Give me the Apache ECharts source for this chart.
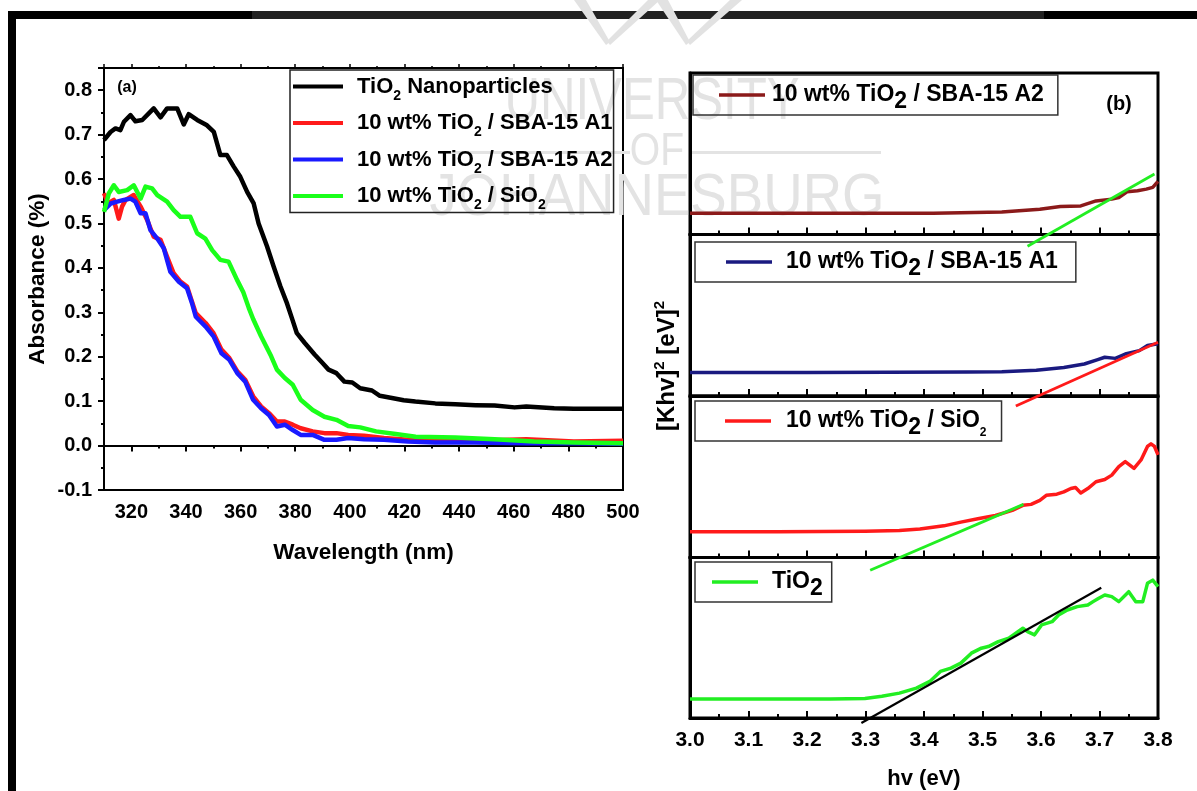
<!DOCTYPE html>
<html><head><meta charset="utf-8">
<script src="https://cdn.jsdelivr.net/npm/echarts@6/dist/echarts.min.js"></script>
<style>html,body{margin:0;padding:0;background:#fff}#c{width:1197px;height:791px}</style>
</head><body><div id="c"></div>
<script>
const FONT = '"Liberation Sans", Arial, Helvetica, sans-serif';

// ---------- Panel (a): absorbance vs wavelength ----------
const wlBlack  = [310, 312.4, 314.2, 316, 317.3, 319.7, 321.5, 324, 326.4, 328.2, 330.7, 333.1, 336.8, 339.2, 341, 344.1, 347.7, 350.2, 352.6, 355, 357.5, 359.9, 362.4, 364.8, 366.6, 369.7, 372.1, 374.6, 377, 379, 380.6, 383.5, 387.1, 390, 392.2, 395.1, 398, 400.9, 403.8, 408.1, 411, 415.4, 419.7, 424, 431.3, 438.6, 446, 453, 460.3, 464.6, 474.8, 482, 489.3, 500];
const absBlack = [0.688, 0.706, 0.714, 0.71, 0.729, 0.744, 0.73, 0.733, 0.748, 0.759, 0.739, 0.759, 0.759, 0.723, 0.746, 0.733, 0.721, 0.706, 0.654, 0.654, 0.628, 0.605, 0.571, 0.545, 0.50, 0.448, 0.403, 0.358, 0.32, 0.283, 0.253, 0.231, 0.205, 0.186, 0.171, 0.163, 0.144, 0.142, 0.129, 0.124, 0.112, 0.107, 0.102, 0.099, 0.095, 0.093, 0.091, 0.090, 0.086, 0.088, 0.084, 0.083, 0.083, 0.083];

const wlRed  = [310, 311.5, 313.6, 315.4, 316.6, 317.9, 320.9, 323.4, 325.8, 328.2, 330.7, 333.1, 335.5, 338, 340.4, 342, 343.6, 347.2, 350.1, 353, 355.9, 358.8, 361.7, 364.6, 367.5, 370.4, 373.3, 376.2, 379.1, 382, 386.4, 390.7, 395.1, 399.4, 405.2, 412.5, 421.2, 431.3, 445.8, 464.6, 482, 500];
const absRed = [0.568, 0.545, 0.553, 0.511, 0.538, 0.553, 0.564, 0.538, 0.508, 0.470, 0.463, 0.425, 0.388, 0.369, 0.358, 0.328, 0.298, 0.276, 0.253, 0.216, 0.197, 0.167, 0.148, 0.111, 0.088, 0.073, 0.054, 0.054, 0.047, 0.039, 0.032, 0.028, 0.028, 0.024, 0.022, 0.017, 0.013, 0.011, 0.011, 0.014, 0.009, 0.011];

const wlBlue  = [310, 312.5, 314.8, 317.3, 319.7, 321.5, 323.4, 325.2, 327, 329.5, 331.9, 334.3, 337.4, 340.4, 342.2, 343.6, 347.2, 350.1, 353, 355.9, 358.8, 361.7, 364.6, 367.5, 370.4, 373.3, 376.2, 379.1, 382, 386.4, 390.7, 395.1, 399.4, 405.2, 412.5, 421.2, 431.3, 445.8, 464.6, 482, 500];
const absBlue = [0.53, 0.545, 0.549, 0.553, 0.556, 0.549, 0.523, 0.523, 0.485, 0.466, 0.444, 0.391, 0.369, 0.354, 0.321, 0.29, 0.268, 0.246, 0.208, 0.193, 0.163, 0.144, 0.103, 0.084, 0.069, 0.043, 0.047, 0.035, 0.024, 0.024, 0.013, 0.013, 0.017, 0.014, 0.013, 0.009, 0.007, 0.007, 0.005, 0.005, 0.004];

const wlGreen  = [310, 311.8, 313.6, 315.4, 318.5, 320.9, 323.4, 325.2, 327.6, 329.5, 333.1, 335.5, 338, 341.6, 344.1, 347.1, 349.6, 352.6, 355.6, 358.7, 361, 363, 364.6, 367.5, 371.2, 373.3, 376.2, 379.1, 382, 386.4, 390.7, 395.1, 399.4, 403.8, 409.6, 416.8, 424.1, 438.6, 453, 467.5, 482, 500];
const absGreen = [0.526, 0.568, 0.586, 0.571, 0.575, 0.586, 0.556, 0.583, 0.579, 0.564, 0.549, 0.530, 0.515, 0.515, 0.478, 0.466, 0.44, 0.418, 0.414, 0.373, 0.345, 0.31, 0.285, 0.246, 0.201, 0.171, 0.152, 0.137, 0.103, 0.080, 0.065, 0.058, 0.044, 0.041, 0.032, 0.026, 0.020, 0.018, 0.014, 0.009, 0.007, 0.005];

const namesA = ['TiO2 Nanoparticles', '10 wt% TiO2 / SBA-15 A1', '10 wt% TiO2 / SBA-15 A2', '10 wt% TiO2 / SiO2'];
const colorsA = ['#000000', '#ff1a1a', '#1a1aff', '#1aff1a'];

// ---------- Panel (b): Tauc plots (arbitrary units, 0..1 per sub-panel) ----------
const hvA2 = [3.0, 3.2, 3.416, 3.533, 3.598, 3.633, 3.668, 3.694, 3.721, 3.733, 3.747, 3.765, 3.78, 3.791, 3.8];
const kA2  = [0.131, 0.131, 0.132, 0.140, 0.156, 0.173, 0.177, 0.208, 0.219, 0.229, 0.265, 0.271, 0.281, 0.292, 0.329];
const fitHvA2 = [3.577, 3.794];
const fitKA2  = [-0.073, 0.375];

const hvA1 = [3.0, 3.2, 3.475, 3.533, 3.592, 3.639, 3.674, 3.697, 3.709, 3.727, 3.744, 3.768, 3.782, 3.8];
const kA1  = [0.146, 0.146, 0.148, 0.15, 0.16, 0.177, 0.198, 0.225, 0.24, 0.233, 0.26, 0.281, 0.3125, 0.323];
const fitHvA1 = [3.557, 3.8];
const fitKA1  = [-0.0625, 0.333];

const hvSi = [3.0, 3.15, 3.299, 3.358, 3.393, 3.434, 3.463, 3.492, 3.522, 3.551, 3.569, 3.583, 3.598, 3.609, 3.627, 3.639, 3.651, 3.659, 3.668, 3.68, 3.694, 3.709, 3.721, 3.733, 3.744, 3.759, 3.771, 3.782, 3.788, 3.794, 3.8];
const kSi  = [0.16, 0.16, 0.162, 0.167, 0.177, 0.196, 0.219, 0.24, 0.26, 0.292, 0.323, 0.329, 0.354, 0.385, 0.392, 0.406, 0.427, 0.433, 0.40, 0.427, 0.469, 0.483, 0.51, 0.5625, 0.594, 0.552, 0.604, 0.6875, 0.704, 0.6875, 0.635];
const fitHvSi = [3.308, 3.570];
const fitKSi  = [-0.079, 0.329];

const hvTi = [3.0, 3.24, 3.299, 3.328, 3.358, 3.387, 3.41, 3.428, 3.446, 3.463, 3.481, 3.498, 3.51, 3.527, 3.545, 3.557, 3.569, 3.577, 3.589, 3.601, 3.619, 3.63, 3.645, 3.662, 3.68, 3.689, 3.698, 3.709, 3.721, 3.733, 3.75, 3.762, 3.774, 3.782, 3.791, 3.8];
const kTi  = [0.118, 0.118, 0.122, 0.135, 0.155, 0.186, 0.228, 0.29, 0.311, 0.342, 0.404, 0.435, 0.445, 0.476, 0.497, 0.528, 0.559, 0.538, 0.518, 0.58, 0.6, 0.642, 0.673, 0.694, 0.704, 0.725, 0.745, 0.766, 0.756, 0.725, 0.787, 0.725, 0.725, 0.839, 0.859, 0.818];
const fitHvTi = [3.293, 3.703];
const fitKTi  = [-0.031, 0.812];

const namesB = ['A2 (b)', 'A1 (b)', 'SiO2 (b)', 'TiO2 (b)'];
const colorsB = ['#8b1a1a', '#1a1a80', '#ff1a1a', '#22ee22'];
const fitColorsB = ['#22ee22', '#ff1a1a', '#22ee22', '#000000'];

// ---------- helpers ----------
const zip = (xs, ys) => xs.map((x, i) => [x, ys[i]]);
const boldText = (size) => ({ fontFamily: FONT, fontWeight: 'bold', fontSize: size, color: '#000' });

const legendTextA = {
  'TiO2 Nanoparticles': '{m|TiO}{s|2}{m| Nanoparticles}',
  '10 wt% TiO2 / SBA-15 A1': '{m|10 wt% TiO}{s|2}{m| / SBA-15 A1}',
  '10 wt% TiO2 / SBA-15 A2': '{m|10 wt% TiO}{s|2}{m| / SBA-15 A2}',
  '10 wt% TiO2 / SiO2': '{m|10 wt% TiO}{s|2}{m| / SiO}{s|2}'
};
const legendTextB = {
  'A2 (b)': '{m|10 wt% TiO}{b|2}{m| / SBA-15 A2}',
  'A1 (b)': '{m|10 wt% TiO}{b|2}{m| / SBA-15 A1}',
  'SiO2 (b)': '{m|10 wt% TiO}{b|2}{m| / SiO}{s|2}',
  'TiO2 (b)': '{m|TiO}{b|2}'
};
const richA = {
  m: boldText(22),
  s: Object.assign(boldText(14), { verticalAlign: 'bottom' })
};
const richB = {
  m: boldText(23),
  b: Object.assign(boldText(23), { verticalAlign: 'bottom' }),
  s: Object.assign(boldText(12), { verticalAlign: 'bottom' })
};

// ---------- grids ----------
const subH = 161.5;
const grids = [
  { left: 104, top: 68, width: 519, height: 422, show: true, borderColor: '#000', borderWidth: 2 },
];
for (let i = 0; i < 4; i++) {
  grids.push({ left: 690, top: 73 + i * subH, width: 468, height: subH, show: true, borderColor: '#000', borderWidth: 3 });
}

const xAxes = [
  { gridIndex: 0, type: 'value', min: 310, max: 500, splitNumber: 10, position: 'bottom',
    axisLine: { lineStyle: { color: '#000', width: 2 } },
    axisTick: { inside: false, length: 6, lineStyle: { color: '#000', width: 2 } },
    minorTick: { show: true, splitNumber: 2, length: 3, lineStyle: { color: '#000', width: 2 } },
    splitLine: { show: false },
    axisLabel: Object.assign(boldText(20), { margin: 12, showMinLabel: false }),
    name: 'Wavelength (nm)', nameLocation: 'middle', nameGap: 51, nameTextStyle: boldText(22.5) },
  { gridIndex: 0, type: 'value', min: 310, max: 500, splitNumber: 10, position: 'top',
    axisLine: { lineStyle: { color: '#000', width: 2 } },
    axisTick: { inside: false, length: 4, lineStyle: { color: '#000', width: 1.5 } },
    minorTick: { show: true, splitNumber: 2, length: 2, lineStyle: { color: '#000', width: 1.5 } },
    splitLine: { show: false }, axisLabel: { show: false } }
];
for (let i = 0; i < 4; i++) {
  const last = i === 3;
  xAxes.push({ gridIndex: i + 1, type: 'value', min: 3.0, max: 3.8, interval: 0.1, position: 'bottom',
    axisLine: { lineStyle: { color: '#000', width: 3 } },
    axisTick: { inside: true, length: 7, lineStyle: { color: '#000', width: 2 } },
    minorTick: { show: true, splitNumber: 2, length: 4, lineStyle: { color: '#000', width: 2 } },
    splitLine: { show: false },
    axisLabel: Object.assign(boldText(21), { show: last, margin: 12, formatter: v => v.toFixed(1) }),
    name: last ? 'hv (eV)' : '', nameLocation: 'middle', nameGap: 50, nameTextStyle: boldText(22) });
}

const yAxes = [
  { gridIndex: 0, type: 'value', min: -0.1, max: 0.85, interval: 0.1,
    axisLine: { show: true, lineStyle: { color: '#000', width: 2 } },
    axisTick: { show: true, inside: false, length: 6, lineStyle: { color: '#000', width: 2 } },
    minorTick: { show: true, splitNumber: 2, length: 3, lineStyle: { color: '#000', width: 2 } },
    splitLine: { show: false },
    axisLabel: Object.assign(boldText(20), { margin: 12, showMaxLabel: false, formatter: v => v.toFixed(1) }),
    name: 'Absorbance (%)', nameLocation: 'middle', nameGap: 55, nameTextStyle: boldText(22.5) }
];
for (let i = 0; i < 4; i++) {
  yAxes.push({ gridIndex: i + 1, type: 'value', min: 0, max: 1,
    axisLine: { show: true, lineStyle: { color: '#000', width: 3 } },
    axisTick: { show: false }, axisLabel: { show: false }, splitLine: { show: false } });
}

// ---------- series ----------
const series = [];
const dataA = [zip(wlBlack, absBlack), zip(wlRed, absRed), zip(wlBlue, absBlue), zip(wlGreen, absGreen)];
dataA.forEach((d, i) => series.push({
  type: 'line', name: namesA[i], xAxisIndex: 0, yAxisIndex: 0, data: d, showSymbol: false, symbol: 'none',
  color: colorsA[i], lineStyle: { color: colorsA[i], width: 4.5, join: 'round' }, z: 3 + i, animation: false
}));
const dataB = [zip(hvA2, kA2), zip(hvA1, kA1), zip(hvSi, kSi), zip(hvTi, kTi)];
const fitsB = [zip(fitHvA2, fitKA2), zip(fitHvA1, fitKA1), zip(fitHvSi, fitKSi), zip(fitHvTi, fitKTi)];
dataB.forEach((d, i) => {
  series.push({ type: 'line', name: namesB[i], xAxisIndex: i + 2, yAxisIndex: i + 1, data: d,
    showSymbol: false, symbol: 'none', color: colorsB[i], lineStyle: { color: colorsB[i], width: 3.5, join: 'round' },
    z: 3, animation: false });
  series.push({ type: 'line', name: 'fit' + i, xAxisIndex: i + 2, yAxisIndex: i + 1, data: fitsB[i],
    showSymbol: false, symbol: 'none', clip: false, color: fitColorsB[i],
    lineStyle: { color: fitColorsB[i], width: i === 3 ? 2.2 : 2.8 }, z: 4, animation: false });
});

// ---------- legends ----------
const legends = [
  { left: 290, top: 70, orient: 'vertical', data: namesA, icon: 'rect', itemWidth: 50, itemHeight: 4,
    itemGap: 3.5, padding: [0, 1, 0, 3], borderColor: '#222', borderWidth: 1.5, selectedMode: false,
    textStyle: { lineHeight: 33, padding: [0, 0, 0, 9], rich: richA }, formatter: n => legendTextA[n] }
];
const legPos = [
  { left: 693, top: 75, pad: [2, 14, 2, 26], tp: 2 },
  { left: 695, top: 242, pad: [2, 18, 2, 31], tp: 9 },
  { left: 695, top: 401, pad: [2, 15, 2, 30], tp: 10 },
  { left: 695, top: 562, pad: [2, 9, 2, 17], tp: 9 }
];
legPos.forEach((p, i) => legends.push({
  left: p.left, top: p.top, orient: 'vertical', data: [namesB[i]], icon: 'rect', itemWidth: 46, itemHeight: 3.5,
  padding: p.pad, borderColor: '#333', borderWidth: 1.5, selectedMode: false,
  textStyle: { lineHeight: 36, padding: [0, 0, 0, p.tp], rich: richB }, formatter: n => legendTextB[n]
}));

// ---------- decorations (frame, watermark, panel letters, y title of b) ----------
const WM = '#e3e3e3';
const LOGO = '#e2e2e2';
const graphics = [
  { type: 'rect', z: 2, shape: { x: 8, y: 11, width: 1189, height: 8 }, style: { fill: '#000' } },
  { type: 'rect', z: 2, shape: { x: 252, y: 11, width: 792, height: 8 }, style: { fill: '#222' } },
  { type: 'rect', z: 2, shape: { x: 8, y: 11, width: 8, height: 780 }, style: { fill: '#000' } },
  { type: 'polygon', z: 3, shape: { points: [[574, 0], [586, 0], [610, 42], [606, 45]] }, style: { fill: LOGO } },
  { type: 'polygon', z: 3, shape: { points: [[648, 0], [660, 0], [610, 45], [607, 41]] }, style: { fill: LOGO } },
  { type: 'polygon', z: 3, shape: { points: [[656, 0], [668, 0], [690, 42], [686, 45]] }, style: { fill: LOGO } },
  { type: 'polygon', z: 3, shape: { points: [[730, 0], [742, 0], [690, 45], [687, 41]] }, style: { fill: LOGO } },
  { type: 'text', z: 0, x: 652, y: 102, scaleX: 0.82, style: { text: 'UNIVERSITY', x: 0, y: 0, align: 'center', verticalAlign: 'middle', textAlign: 'center', textVerticalAlign: 'middle', font: '60px ' + FONT, fill: WM } },
  { type: 'text', z: 0, x: 657, y: 152, scaleX: 0.85, style: { text: 'OF', x: 0, y: 0, align: 'center', verticalAlign: 'middle', textAlign: 'center', textVerticalAlign: 'middle', font: '46px ' + FONT, fill: WM } },
  { type: 'rect', z: 0, shape: { x: 440, y: 151, width: 190, height: 3 }, style: { fill: WM } },
  { type: 'rect', z: 0, shape: { x: 691, y: 151, width: 190, height: 3 }, style: { fill: WM } },
  { type: 'text', z: 0, x: 657, y: 198, scaleX: 0.91, style: { text: 'JOHANNESBURG', x: 0, y: 0, align: 'center', verticalAlign: 'middle', textAlign: 'center', textVerticalAlign: 'middle', font: '60px ' + FONT, fill: WM } },
  { type: 'text', z: 20, x: 127, y: 88, style: { text: '(a)', x: 0, y: 0, align: 'center', verticalAlign: 'middle', textAlign: 'center', textVerticalAlign: 'middle', font: 'bold 16px ' + FONT, fill: '#000' } },
  { type: 'text', z: 20, x: 1119, y: 104, style: { text: '(b)', x: 0, y: 0, align: 'center', verticalAlign: 'middle', textAlign: 'center', textVerticalAlign: 'middle', font: 'bold 20px ' + FONT, fill: '#000' } },
  { type: 'text', z: 20, x: 667, y: 366, rotation: Math.PI / 2,
    style: { text: '{m|[Khv]}{p|2}{m| [eV]}{p|2}', x: 0, y: 0, align: 'center', verticalAlign: 'middle', textAlign: 'center', textVerticalAlign: 'middle',
      rich: { m: Object.assign(boldText(24), { lineHeight: 30 }), p: Object.assign(boldText(15), { verticalAlign: 'top' }) } } }
];

const chart = echarts.init(document.getElementById('c'), null, { renderer: 'canvas', width: 1197, height: 791 });
chart.setOption({
  animation: false,
  backgroundColor: '#ffffff',
  grid: grids,
  xAxis: xAxes,
  yAxis: yAxes,
  legend: legends,
  series: series,
  graphic: { elements: graphics }
});
</script>
</body></html>
